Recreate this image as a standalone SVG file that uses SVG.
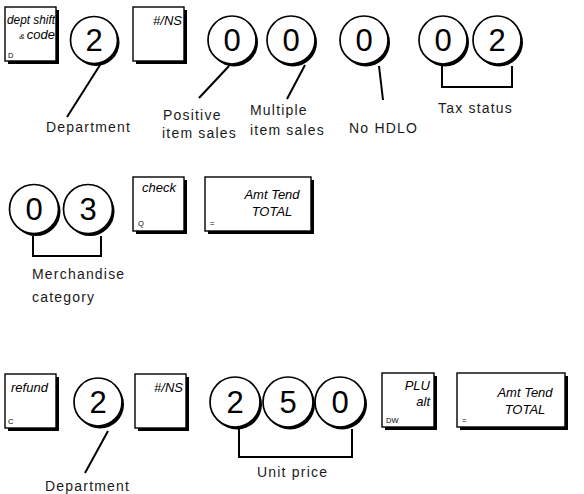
<svg xmlns="http://www.w3.org/2000/svg" width="584" height="494" viewBox="0 0 584 494">
<defs>
<style>
.key{fill:#fff;stroke:#000;stroke-width:1.4}
.sh{fill:#000}
.ci{fill:#fff;stroke:#000;stroke-width:1.7}
.dg{font-family:"Liberation Sans",Arial,sans-serif;font-size:31px;text-anchor:middle;fill:#000}
.kl{font-family:"Liberation Sans",Arial,sans-serif;font-style:italic;font-size:13px;fill:#000}
.ks{font-family:"Liberation Sans",Arial,sans-serif;font-size:7.5px;fill:#000}
.lb{font-family:"Liberation Sans",Arial,sans-serif;font-size:14px;letter-spacing:1.2px;fill:#1a1a1a}
.ln{fill:none;stroke:#000;stroke-width:2}
</style>
</defs>
<rect width="584" height="494" fill="#fff"/>

<!-- Row 1 -->
<g id="key-deptshift">
<rect class="sh" x="8" y="10" width="51" height="54"/>
<rect class="key" x="5" y="7" width="51" height="54"/>
<text class="kl" x="7" y="24" font-size="12" textLength="48" lengthAdjust="spacingAndGlyphs">dept shift</text>
<text class="kl" x="55" y="39" text-anchor="end" font-size="12"><tspan font-size="8">&amp; </tspan>code</text>
<text class="ks" x="8" y="58">D</text>
</g>
<g id="c-2a">
<circle class="sh" cx="96" cy="42.5" r="23.5"/>
<circle class="ci" cx="94" cy="40" r="23.5"/>
<text class="dg" x="94" y="51">2</text>
</g>
<g id="key-ns1">
<rect class="sh" x="136" y="10" width="51" height="54"/>
<rect class="key" x="133" y="7" width="51" height="54"/>
<text class="kl" x="182" y="25" text-anchor="end" font-size="14">#/NS</text>
</g>
<g id="c-0a">
<circle class="sh" cx="234" cy="42.5" r="24"/>
<circle class="ci" cx="232" cy="40" r="24"/>
<text class="dg" x="232" y="51">0</text>
</g>
<g id="c-0b">
<circle class="sh" cx="293" cy="42.5" r="24"/>
<circle class="ci" cx="291" cy="40" r="24"/>
<text class="dg" x="291" y="51">0</text>
</g>
<g id="c-0c">
<circle class="sh" cx="366" cy="42.5" r="24"/>
<circle class="ci" cx="364" cy="40" r="24"/>
<text class="dg" x="364" y="51">0</text>
</g>
<g id="c-0d">
<circle class="sh" cx="445" cy="42.5" r="24"/>
<circle class="ci" cx="443" cy="40" r="24"/>
<text class="dg" x="443" y="51">0</text>
</g>
<g id="c-2e">
<circle class="sh" cx="499" cy="42.5" r="24"/>
<circle class="ci" cx="497" cy="40" r="24"/>
<text class="dg" x="497" y="51">2</text>
</g>

<!-- Row 2 -->
<g id="c-0f">
<circle class="sh" cx="36" cy="211.5" r="24.5"/>
<circle class="ci" cx="34" cy="209" r="24.5"/>
<text class="dg" x="34" y="220">0</text>
</g>
<g id="c-3">
<circle class="sh" cx="90" cy="211.5" r="24.5"/>
<circle class="ci" cx="88" cy="209" r="24.5"/>
<text class="dg" x="88" y="220">3</text>
</g>
<g id="key-check">
<rect class="sh" x="136" y="180" width="51" height="54"/>
<rect class="key" x="133" y="177" width="51" height="54"/>
<text class="kl" x="142" y="192" font-size="14">check</text>
<text class="ks" x="138" y="226">Q</text>
</g>
<g id="key-total1">
<rect class="sh" x="208" y="180" width="106" height="54"/>
<rect class="key" x="205" y="177" width="106" height="54"/>
<text class="kl" x="272" y="199" text-anchor="middle" font-size="15">Amt Tend</text>
<text class="kl" x="272" y="216" text-anchor="middle" font-size="15">TOTAL</text>
<text class="ks" x="210" y="226" font-size="10">=</text>
</g>

<!-- Row 3 -->
<g id="key-refund">
<rect class="sh" x="8" y="377" width="51" height="54"/>
<rect class="key" x="5" y="374" width="51" height="54"/>
<text class="kl" x="11" y="392" font-size="14">refund</text>
<text class="ks" x="8" y="424">C</text>
</g>
<g id="c-2g">
<circle class="sh" cx="100" cy="404.5" r="24"/>
<circle class="ci" cx="98" cy="402" r="24"/>
<text class="dg" x="98" y="413">2</text>
</g>
<g id="key-ns2">
<rect class="sh" x="138" y="377" width="51" height="54"/>
<rect class="key" x="135" y="374" width="51" height="54"/>
<text class="kl" x="183" y="392" text-anchor="end" font-size="14">#/NS</text>
</g>
<g id="c-2h">
<circle class="sh" cx="237" cy="404.5" r="25"/>
<circle class="ci" cx="235" cy="402" r="25"/>
<text class="dg" x="235" y="413">2</text>
</g>
<g id="c-5">
<circle class="sh" cx="290" cy="404.5" r="25"/>
<circle class="ci" cx="288" cy="402" r="25"/>
<text class="dg" x="288" y="413">5</text>
</g>
<g id="c-0i">
<circle class="sh" cx="342" cy="404.5" r="25"/>
<circle class="ci" cx="340" cy="402" r="25"/>
<text class="dg" x="340" y="413">0</text>
</g>
<g id="key-plu">
<rect class="sh" x="385" y="376" width="52" height="54"/>
<rect class="key" x="382" y="373" width="52" height="54"/>
<text class="kl" x="430" y="390" text-anchor="end" font-size="13">PLU</text>
<text class="kl" x="430" y="406" text-anchor="end" font-size="13">alt</text>
<text class="ks" x="386" y="423">DW</text>
</g>
<g id="key-total2">
<rect class="sh" x="460" y="376" width="108" height="54"/>
<rect class="key" x="457" y="373" width="108" height="54"/>
<text class="kl" x="525" y="397" text-anchor="middle" font-size="15">Amt Tend</text>
<text class="kl" x="525" y="414" text-anchor="middle" font-size="15">TOTAL</text>
<text class="ks" x="462" y="423" font-size="10">=</text>
</g>

<!-- Connectors -->
<g id="connectors">
<line class="ln" x1="100" y1="65" x2="67" y2="117"/>
<line class="ln" x1="229" y1="66" x2="199" y2="98"/>
<line class="ln" x1="305" y1="65" x2="287" y2="99"/>
<line class="ln" x1="379" y1="66" x2="383" y2="100"/>
<polyline class="ln" points="442,66 442,87 512,87 512,66"/>
<polyline class="ln" points="33,236 33,256 101,256 101,236"/>
<line class="ln" x1="108" y1="431" x2="85" y2="473"/>
<polyline class="ln" points="239,429 239,457 352,457 352,429"/>
</g>

<!-- Labels -->
<g id="labels">
<text class="lb" x="46" y="132">Department</text>
<text class="lb" x="163" y="120">Positive</text>
<text class="lb" x="162" y="138">item  sales</text>
<text class="lb" x="250" y="115">Multiple</text>
<text class="lb" x="250" y="135">item  sales</text>
<text class="lb" x="349" y="133">No HDLO</text>
<text class="lb" x="438" y="113">Tax status</text>
<text class="lb" x="32" y="279">Merchandise</text>
<text class="lb" x="32" y="302">category</text>
<text class="lb" x="257" y="477">Unit price</text>
<text class="lb" x="45" y="491">Department</text>
</g>
</svg>
